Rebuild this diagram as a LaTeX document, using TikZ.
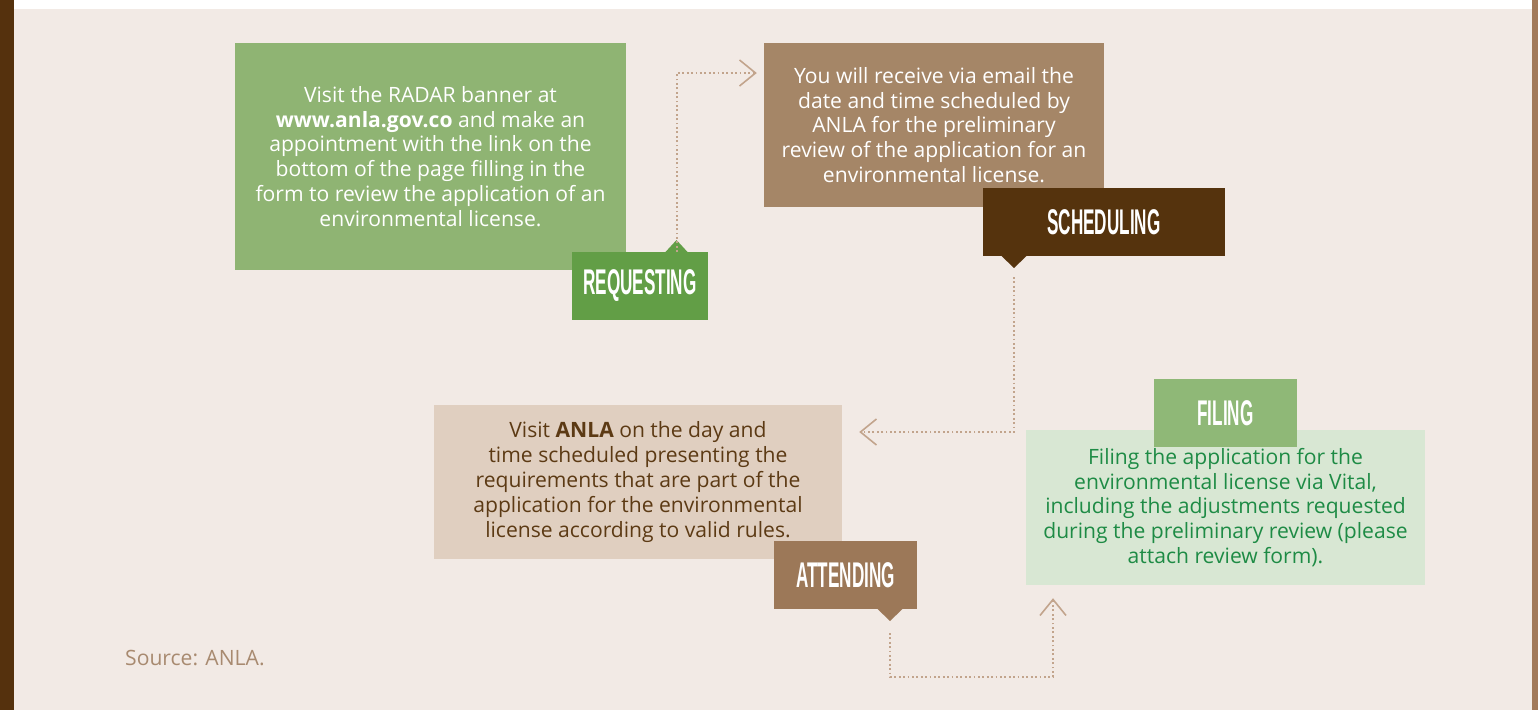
\documentclass[tikz,border=0pt]{standalone}
\usepackage{fontspec}
\setmainfont{Open Sans}
\newfontfamily\tagfont[FakeStretch=0.48]{Liberation Sans}
\usetikzlibrary{arrows.meta, calc, positioning}

\definecolor{bgc}{HTML}{F2EAE5}
\definecolor{barl}{HTML}{55310D}
\definecolor{barr}{HTML}{A27A5A}
\definecolor{reqc}{HTML}{8FB473}
\definecolor{reqtc}{HTML}{629E46}
\definecolor{schc}{HTML}{A58667}
\definecolor{schtc}{HTML}{55330D}
\definecolor{attc}{HTML}{E0CFC0}
\definecolor{atttc}{HTML}{9C7858}
\definecolor{filc}{HTML}{D8E7D3}
\definecolor{filtc}{HTML}{8FB877}
\definecolor{dotc}{HTML}{C2A48C}
\definecolor{atttext}{HTML}{5C3A14}
\definecolor{filtext}{HTML}{1E8B45}
\definecolor{srcc}{HTML}{A88A70}

\tikzset{
	txt/.style={align=center, inner sep=0pt, font=\fontsize{21.1}{24.8}\selectfont},
	tag/.style={inner sep=0pt, text=white, minimum height=68pt, font=\tagfont\bfseries\fontsize{35.7}{36}\selectfont},
	flow/.style={draw=dotc, line width=2pt, dash pattern=on 1.8pt off 2.6pt,
		-{Straight Barb[length=16pt, width=26pt, line width=1.6pt]}}
}

\begin{document}
\begin{tikzpicture}[x=1pt, y=-1pt]

	% frame
	\useasboundingbox (0,0) rectangle (1538,710);
	\fill[white] (0,0) rectangle (1538,710);
	\fill[bgc] (0,9) rectangle (1538,710);
	\fill[barl] (0,0) rectangle (14,710);
	\fill[barr] (1532,0) rectangle (1538,710);

	\node[txt, fill=reqc, text=white, minimum width=391pt, minimum height=227pt] (Req) at (430.5,156.5)
		{Visit the RADAR banner at\\ \textbf{www.anla.gov.co} and make an\\ appointment with the link on the\\ bottom of the page filling in the\\ form to review the application of an\\ environmental license.};
	\node[tag, fill=reqtc, minimum width=136pt] (ReqT) at (640,286) {REQUESTING};

	\node[txt, fill=schc, text=white, minimum width=340pt, minimum height=164pt] (Sch) at (934,125)
		{You will receive via email the\\ date and time scheduled by\\ ANLA for the preliminary\\ review of the application for an\\ environmental license.};
	\node[tag, fill=schtc, minimum width=242pt] (SchT) at (1104,222) {SCHEDULING};

	\node[txt, fill=attc, text=atttext, minimum width=408pt, minimum height=154pt] (Att) at (638,482)
		{Visit \textbf{ANLA} on the day and\\ time scheduled presenting the\\ requirements that are part of the\\ application for the environmental\\ license according to valid rules.};
	\node[tag, fill=atttc, minimum width=143pt] (AttT) at (845.5,575) {ATTENDING};

	\node[txt, fill=filc, text=filtext, minimum width=399pt, minimum height=155pt] (Fil) at (1225.5,507.5)
		{Filing the application for the\\ environmental license via Vital,\\ including the adjustments requested\\ during the preliminary review (please\\ attach review form).};
	\node[tag, fill=filtc, minimum width=143pt] (FilT) at (1225.5,413) {FILING};

	\node[txt, text=srcc, anchor=west] (Src) at (125,658) {Source: ANLA.};

	% pointers
	\coordinate (ReqP) at (676.5,240);
	\coordinate (SchP) at (1014,268);
	\coordinate (AttP) at (890,621);
	\fill[reqtc] (665,252.5) -- (ReqP) -- (688,252.5) -- cycle;
	\fill[schtc] (1001,255.5) -- (SchP) -- (1027,255.5) -- cycle;
	\fill[atttc] (877,608.5) -- (AttP) -- (903,608.5) -- cycle;

	\draw[flow] ($(ReqP)+(0,12)$) |- ($(Sch.west)+(-7,-52)$);
	\draw[flow] ($(SchP)+(0,9)$) |- ($(Att.east)+(17,-50)$);
	\draw[flow] ($(AttP)+(0,12)$) -- ++(0,44) -| ($(Fil.south)+(-172.5,13)$);
\end{tikzpicture}
\end{document}
